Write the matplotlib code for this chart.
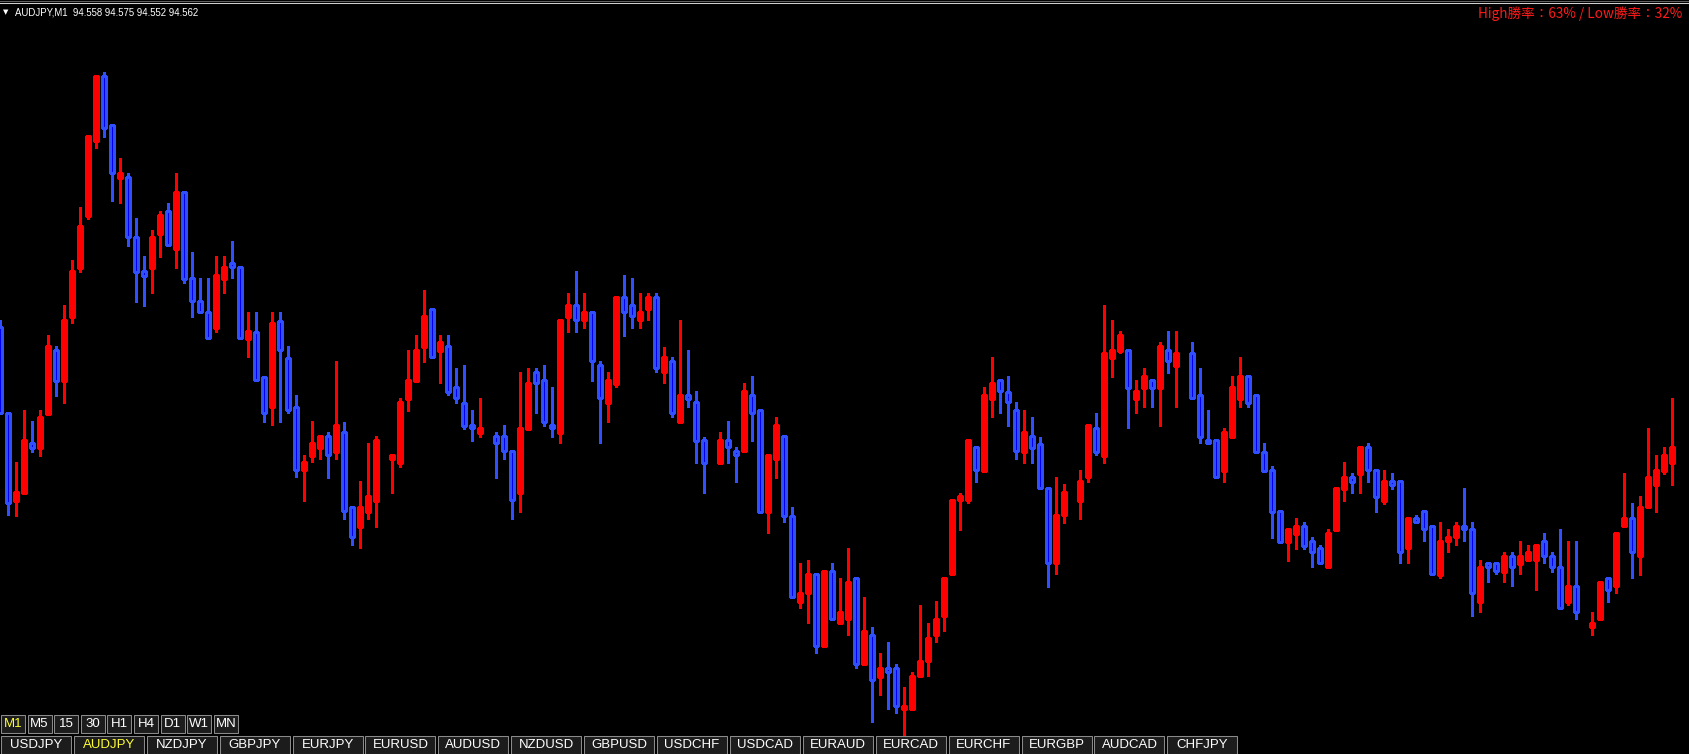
import numpy as np
import matplotlib
matplotlib.use('Agg')
from matplotlib import pyplot as plt
from matplotlib.patches import Rectangle

# AUDJPY M1 bars, oldest first (a few flat bars drawn in the black line colour)
opens = [94.673, 94.587, 94.499, 94.507, 94.557, 94.552, 94.586, 94.650, 94.619, 94.683,
         94.732, 94.784, 94.859, 94.924, 94.875, 94.822, 94.823, 94.763, 94.729, 94.732,
         94.766, 94.789, 94.751, 94.808, 94.722, 94.699, 94.688, 94.672, 94.721, 94.737,
         94.733, 94.661, 94.668, 94.623, 94.593, 94.679, 94.642, 94.593, 94.530, 94.544,
         94.552, 94.564, 94.548, 94.568, 94.493, 94.473, 94.488, 94.499, 94.560, 94.541,
         94.537, 94.601, 94.619, 94.653, 94.691, 94.649, 94.654, 94.613, 94.597, 94.575,
         94.567, 94.572, 94.564, 94.564, 94.549, 94.507, 94.571, 94.628, 94.620, 94.575,
         94.567, 94.683, 94.695, 94.680, 94.688, 94.635, 94.597, 94.616, 94.703, 94.695,
         94.680, 94.691, 94.703, 94.628, 94.639, 94.578, 94.605, 94.598, 94.560, 94.537,
         94.537, 94.560, 94.549, 94.549, 94.605, 94.590, 94.488, 94.541, 94.564, 94.484,
         94.398, 94.407, 94.426, 94.354, 94.429, 94.377, 94.381, 94.422, 94.336, 94.365,
         94.323, 94.332, 94.332, 94.291, 94.291, 94.324, 94.339, 94.365, 94.384, 94.426,
         94.500, 94.500, 94.553, 94.529, 94.601, 94.620, 94.608, 94.590, 94.548, 94.564,
         94.556, 94.512, 94.437, 94.485, 94.508, 94.499, 94.523, 94.572, 94.544, 94.642,
         94.649, 94.650, 94.601, 94.612, 94.620, 94.612, 94.650, 94.634, 94.647, 94.647,
         94.605, 94.560, 94.560, 94.529, 94.563, 94.601, 94.624, 94.605, 94.548, 94.530,
         94.489, 94.458, 94.466, 94.474, 94.459, 94.452, 94.433, 94.470, 94.511, 94.523,
         94.526, 94.553, 94.530, 94.499, 94.519, 94.519, 94.452, 94.482, 94.489, 94.474,
         94.425, 94.459, 94.463, 94.474, 94.471, 94.398, 94.437, 94.437, 94.428, 94.444,
         94.436, 94.440, 94.440, 94.459, 94.444, 94.433, 94.398, 94.414, 94.388, 94.373,
         94.381, 94.422, 94.414, 94.474, 94.482, 94.444, 94.493, 94.515, 94.529, 94.537]
highs = [94.680, 94.587, 94.538, 94.590, 94.579, 94.590, 94.665, 94.654, 94.695, 94.740,
         94.793, 94.864, 94.924, 94.928, 94.875, 94.842, 94.827, 94.782, 94.744, 94.770,
         94.789, 94.797, 94.827, 94.808, 94.748, 94.722, 94.722, 94.744, 94.744, 94.759,
         94.733, 94.688, 94.688, 94.623, 94.688, 94.688, 94.654, 94.605, 94.545, 94.579,
         94.564, 94.568, 94.639, 94.578, 94.493, 94.519, 94.557, 94.564, 94.560, 94.545,
         94.602, 94.650, 94.665, 94.710, 94.691, 94.665, 94.665, 94.632, 94.635, 94.590,
         94.602, 94.572, 94.568, 94.575, 94.549, 94.628, 94.632, 94.632, 94.635, 94.613,
         94.680, 94.707, 94.729, 94.707, 94.688, 94.639, 94.628, 94.703, 94.725, 94.722,
         94.707, 94.707, 94.707, 94.653, 94.643, 94.680, 94.650, 94.609, 94.563, 94.537,
         94.568, 94.579, 94.553, 94.617, 94.624, 94.590, 94.545, 94.583, 94.564, 94.493,
         94.437, 94.440, 94.426, 94.429, 94.437, 94.422, 94.452, 94.422, 94.403, 94.373,
         94.347, 94.358, 94.336, 94.313, 94.328, 94.395, 94.377, 94.399, 94.422, 94.500,
         94.507, 94.560, 94.553, 94.613, 94.643, 94.620, 94.624, 94.598, 94.590, 94.583,
         94.563, 94.512, 94.523, 94.516, 94.508, 94.530, 94.575, 94.587, 94.695, 94.680,
         94.669, 94.650, 94.620, 94.632, 94.620, 94.658, 94.669, 94.669, 94.647, 94.658,
         94.632, 94.590, 94.560, 94.572, 94.624, 94.643, 94.624, 94.605, 94.557, 94.534,
         94.489, 94.471, 94.482, 94.478, 94.463, 94.455, 94.471, 94.512, 94.538, 94.527,
         94.553, 94.557, 94.530, 94.530, 94.527, 94.519, 94.482, 94.485, 94.489, 94.474,
         94.478, 94.471, 94.478, 94.512, 94.478, 94.440, 94.437, 94.437, 94.448, 94.448,
         94.459, 94.455, 94.455, 94.467, 94.448, 94.471, 94.459, 94.459, 94.388, 94.388,
         94.418, 94.422, 94.467, 94.527, 94.497, 94.504, 94.572, 94.545, 94.553, 94.602]
lows = [94.586, 94.485, 94.484, 94.507, 94.548, 94.544, 94.586, 94.604, 94.597, 94.677,
        94.728, 94.781, 94.852, 94.863, 94.799, 94.797, 94.754, 94.698, 94.694, 94.707,
        94.743, 94.755, 94.732, 94.717, 94.683, 94.688, 94.662, 94.668, 94.707, 94.722,
        94.662, 94.643, 94.620, 94.578, 94.575, 94.578, 94.587, 94.523, 94.499, 94.538,
        94.541, 94.522, 94.541, 94.481, 94.455, 94.452, 94.481, 94.473, 94.560, 94.507,
        94.533, 94.589, 94.619, 94.638, 94.643, 94.617, 94.605, 94.597, 94.571, 94.559,
        94.563, 94.572, 94.522, 94.541, 94.481, 94.488, 94.571, 94.587, 94.574, 94.563,
        94.557, 94.668, 94.668, 94.672, 94.619, 94.557, 94.578, 94.613, 94.664, 94.672,
        94.672, 94.680, 94.628, 94.617, 94.583, 94.578, 94.593, 94.537, 94.507, 94.537,
        94.537, 94.537, 94.518, 94.549, 94.559, 94.488, 94.467, 94.522, 94.478, 94.403,
        94.392, 94.377, 94.347, 94.354, 94.381, 94.377, 94.365, 94.332, 94.336, 94.278,
        94.305, 94.291, 94.287, 94.263, 94.291, 94.324, 94.324, 94.358, 94.369, 94.426,
        94.470, 94.497, 94.518, 94.529, 94.583, 94.587, 94.574, 94.541, 94.537, 94.537,
        94.512, 94.413, 94.426, 94.477, 94.508, 94.481, 94.518, 94.545, 94.537, 94.623,
        94.647, 94.572, 94.587, 94.593, 94.593, 94.574, 94.627, 94.593, 94.647, 94.602,
        94.557, 94.557, 94.523, 94.518, 94.563, 94.593, 94.593, 94.548, 94.529, 94.462,
        94.458, 94.439, 94.451, 94.451, 94.433, 94.437, 94.433, 94.470, 94.499, 94.507,
        94.507, 94.518, 94.488, 94.496, 94.511, 94.437, 94.437, 94.478, 94.459, 94.426,
        94.422, 94.448, 94.455, 94.459, 94.384, 94.388, 94.418, 94.426, 94.418, 94.414,
        94.426, 94.440, 94.410, 94.437, 94.428, 94.392, 94.395, 94.381, 94.388, 94.365,
        94.381, 94.398, 94.407, 94.474, 94.422, 94.425, 94.493, 94.488, 94.526, 94.515]
closes = [94.587, 94.497, 94.508, 94.560, 94.552, 94.583, 94.654, 94.619, 94.680, 94.729,
          94.774, 94.864, 94.924, 94.872, 94.827, 94.827, 94.763, 94.728, 94.724, 94.763,
          94.785, 94.755, 94.808, 94.721, 94.699, 94.688, 94.662, 94.725, 94.733, 94.733,
          94.662, 94.669, 94.620, 94.587, 94.677, 94.650, 94.590, 94.530, 94.538, 94.557,
          94.564, 94.545, 94.575, 94.489, 94.463, 94.493, 94.504, 94.560, 94.560, 94.545,
          94.598, 94.620, 94.650, 94.684, 94.643, 94.658, 94.608, 94.602, 94.574, 94.572,
          94.572, 94.572, 94.557, 94.549, 94.500, 94.572, 94.617, 94.617, 94.578, 94.572,
          94.680, 94.695, 94.680, 94.688, 94.639, 94.602, 94.620, 94.703, 94.688, 94.684,
          94.688, 94.703, 94.632, 94.643, 94.587, 94.605, 94.601, 94.559, 94.537, 94.537,
          94.560, 94.553, 94.545, 94.609, 94.587, 94.488, 94.545, 94.575, 94.484, 94.403,
          94.407, 94.426, 94.354, 94.429, 94.381, 94.388, 94.418, 94.336, 94.369, 94.320,
          94.332, 94.328, 94.294, 94.294, 94.324, 94.339, 94.362, 94.381, 94.422, 94.500,
          94.504, 94.560, 94.530, 94.605, 94.617, 94.609, 94.598, 94.549, 94.568, 94.552,
          94.512, 94.437, 94.485, 94.508, 94.508, 94.519, 94.575, 94.548, 94.647, 94.650,
          94.665, 94.612, 94.609, 94.624, 94.612, 94.654, 94.639, 94.647, 94.647, 94.602,
          94.563, 94.557, 94.523, 94.568, 94.613, 94.624, 94.597, 94.548, 94.529, 94.488,
          94.458, 94.471, 94.474, 94.454, 94.448, 94.437, 94.467, 94.512, 94.523, 94.518,
          94.553, 94.530, 94.503, 94.519, 94.515, 94.448, 94.482, 94.478, 94.471, 94.426,
          94.459, 94.463, 94.474, 94.471, 94.407, 94.433, 94.433, 94.429, 94.444, 94.433,
          94.444, 94.448, 94.455, 94.444, 94.433, 94.392, 94.414, 94.388, 94.388, 94.377,
          94.418, 94.410, 94.467, 94.482, 94.448, 94.493, 94.523, 94.530, 94.545, 94.553]

timeframes = ['M1', 'M5', '15', '30', 'H1', 'H4', 'D1', 'W1', 'MN']
symbols = ['USDJPY', 'AUDJPY', 'NZDJPY', 'GBPJPY', 'EURJPY', 'EURUSD', 'AUDUSD',
           'NZDUSD', 'GBPUSD', 'USDCHF', 'USDCAD', 'EURAUD', 'EURCAD', 'EURCHF',
           'EURGBP', 'AUDCAD', 'CHFJPY']
active_tf = 'M1'
active_sym = 'AUDJPY'
header = 'AUDJPY,M1  94.558 94.575 94.552 94.562'
stats = 'High勝率：63% / Low勝率：32%'

W, H = 1689, 754
RED = '#ff0000'
BLUE_FILL = '#0000f0'
BLUE_EDGE = '#3050ff'

fig = plt.figure(figsize=(W / 100, H / 100), dpi=100, facecolor='black')
ax = fig.add_axes([0, 0, 1, 1])
ax.set_facecolor('black')
for s in ax.spines.values():
    s.set_visible(False)
ax.set_xticks([])
ax.set_yticks([])

o = np.array(opens)
h = np.array(highs)
l = np.array(lows)
c = np.array(closes)
x = np.arange(len(o))
up = c > o
dn = c < o

# wicks
ax.vlines(x[up], l[up], h[up], color=RED, lw=0.75, antialiased=False)
ax.vlines(x[dn], l[dn], h[dn], color=BLUE_EDGE, lw=0.75, antialiased=False)
# bodies
ax.bar(x[up], (c - o)[up], bottom=o[up], width=0.5, color=RED,
       edgecolor=RED, lw=0.75, antialiased=False, zorder=3)
ax.bar(x[dn], (o - c)[dn], bottom=c[dn], width=0.5, color=BLUE_FILL,
       edgecolor=BLUE_EDGE, lw=0.75, antialiased=False, zorder=3)

ax.set_xlim(-0.06, W / 8 - 0.06)
ax.set_ylim(95.0 - H / 1000, 95.0)

# ---- terminal chrome, in pixel coordinates
ui = fig.add_axes([0, 0, 1, 1])
ui.set_xlim(0, W)
ui.set_ylim(H, 0)
ui.axis('off')
ui.patch.set_alpha(0)

ui.plot([0, W], [0.5, 0.5], color='#606060', lw=0.75)
ui.plot([0, W], [2.5, 2.5], color='#d0d0d0', lw=0.75)

ui.text(3, 12.5, '▼', color='white', fontsize=5, va='center', ha='left',
        family='DejaVu Sans')
ui.text(15, 12.5, header, color='white', fontsize=6.9, va='center', ha='left',
        family='Liberation Sans')
ui.text(1682, 14, stats, color='#ff1a1a', fontsize=9.8, va='center', ha='right',
        family=['Noto Sans CJK JP', 'DejaVu Sans'])

for k, name in enumerate(timeframes):
    x0 = 1 + 26.6 * k
    ui.add_patch(Rectangle((x0, 714.5), 24, 18, facecolor='#1c1c1c',
                           edgecolor='#8a8a8a', lw=0.75, zorder=5))
    ui.text(x0 + 12, 724, name, color='#ffff33' if name == active_tf else 'white',
            fontsize=9.5, ha='center', va='center', family='Liberation Sans',
            zorder=6)

for k, name in enumerate(symbols):
    x0 = 1 + 72.9 * k
    ui.add_patch(Rectangle((x0, 735.5), 70, 18, facecolor='#1c1c1c',
                           edgecolor='#8a8a8a', lw=0.75, zorder=5))
    ui.text(x0 + 35, 745, name, color='#ffff33' if name == active_sym else 'white',
            fontsize=9.5, ha='center', va='center', family='Liberation Sans',
            zorder=6)

fig.savefig('out.png', dpi=100, facecolor='black')
